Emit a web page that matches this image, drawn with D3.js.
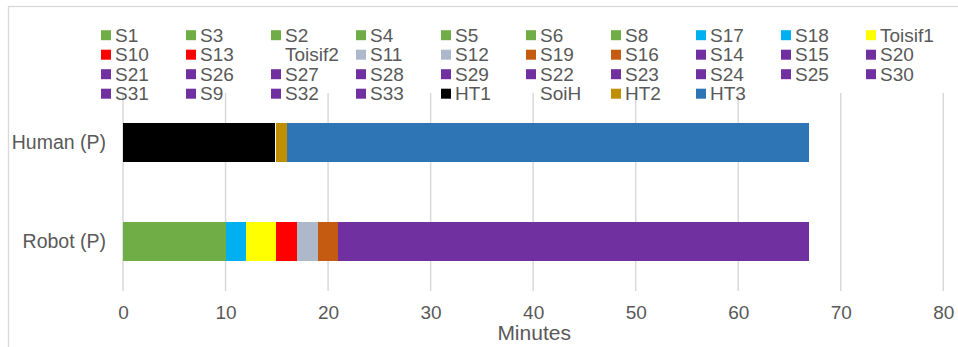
<!DOCTYPE html>
<html>
<head>
<meta charset="utf-8">
<script src="https://cdn.jsdelivr.net/npm/d3@7"></script>
<style>
  html, body { margin: 0; padding: 0; background: #fff; }
  svg { display: block; font-family: "Liberation Sans", Arial, sans-serif; }
</style>
</head>
<body>
<svg id="chart" width="958" height="347"></svg>
<script>
// ---- data ----
const categories = ["Human (P)", "Robot (P)"];
const seriesNames = ["S1","S3","S2","S4","S5","S6","S8","S17","S18","Toisif1",
  "S10","S13","Toisif2","S11","S12","S19","S16","S14","S15","S20",
  "S21","S26","S27","S28","S29","S22","S23","S24","S25","S30",
  "S31","S9","S32","S33","HT1","SoiH","HT2","HT3"];
const seriesColors = ["#70AD47","#70AD47","#70AD47","#70AD47","#70AD47","#70AD47","#70AD47","#00B0F0","#00B0F0","#FFFF00",
  "#FF0000","#FF0000",null,"#ADB9CA","#ADB9CA","#C55A11","#C55A11","#7030A0","#7030A0","#7030A0",
  "#7030A0","#7030A0","#7030A0","#7030A0","#7030A0","#7030A0","#7030A0","#7030A0","#7030A0","#7030A0",
  "#7030A0","#7030A0","#7030A0","#7030A0","#000000",null,"#BF8F00","#2E75B6"];
const humanValues = [0,0,0,0,0,0,0,0,0,0,
  0,0,0,0,0,0,0,0,0,0,
  0,0,0,0,0,0,0,0,0,0,
  0,0,0,0,14.8,0.1,1.1,50.9];
const robotValues = [1.5,1.5,1.5,1.5,1.5,1.5,1.0,1.0,1.0,2.9,
  1.1,1.0,0,1.0,1.0,1.0,1.0,2.5,2.5,3.0,
  2.5,3.0,2.5,3.0,2.5,3.0,2.5,3.0,2.5,3.0,
  2.5,3.0,2.5,2.4,0,0,0,0];
const xTicks = [0,10,20,30,40,50,60,70,80];
const xTitle = "Minutes";

// ---- build table ----
const valuesByCategory = [humanValues, robotValues];
const table = categories.map((c, ci) => {
  const row = { category: c };
  seriesNames.forEach((s, si) => { row[s] = valuesByCategory[ci][si]; });
  return row;
});
const colorOf = {};
seriesNames.forEach((s, i) => colorOf[s] = seriesColors[i]);

const svg = d3.select("#chart");
const textColor = "#595959";
const gridColor = "#D9D9D9";

// chart frame
svg.append("rect")
  .attr("x", 8.5).attr("y", 6.5).attr("width", 1100).attr("height", 500)
  .attr("fill", "none").attr("stroke", gridColor).attr("stroke-width", 1.3);

const plot = { left: 123, right: 943.3, top: 93, bottom: 291 };

const x = d3.scaleLinear().domain([0, 80]).range([plot.left, plot.right]);
const y = d3.scaleBand().domain(categories).range([plot.top, plot.bottom])
  .paddingInner(0.6).paddingOuter(0.3);

// gridlines
svg.append("g").selectAll("line").data(xTicks).join("line")
  .attr("x1", d => x(d)).attr("x2", d => x(d))
  .attr("y1", plot.top).attr("y2", plot.bottom)
  .attr("stroke", gridColor).attr("stroke-width", 1.5);

// stacked bars
const stack = d3.stack().keys(seriesNames);
const layers = stack(table);
svg.append("g").selectAll("g").data(layers).join("g")
  .attr("fill", d => colorOf[d.key] || "none")
  .selectAll("rect").data(d => d).join("rect")
  .attr("x", d => x(d[0]))
  .attr("width", d => Math.max(0, x(d[1]) - x(d[0])))
  .attr("y", d => y(d.data.category))
  .attr("height", y.bandwidth())
  .attr("shape-rendering", "crispEdges");

// x axis tick labels
const xAxis = d3.axisBottom(x).tickValues(xTicks).tickSize(0).tickPadding(0);
const gx = svg.append("g").attr("transform", `translate(0,${plot.bottom})`).call(xAxis);
gx.select(".domain").remove();
gx.selectAll("text")
  .attr("y", 22).attr("dy", "0.32em")
  .attr("fill", textColor).attr("font-size", 19)
  .attr("font-family", "Liberation Sans, Arial, sans-serif");

// axis title
svg.append("text")
  .attr("x", (plot.left + plot.right) / 2 + 1).attr("y", 333).attr("dy", "0.35em")
  .attr("text-anchor", "middle").attr("fill", textColor).attr("font-size", 21)
  .text(xTitle);

// y axis category labels
const yAxis = d3.axisLeft(y).tickSize(0).tickPadding(0);
const gy = svg.append("g").attr("transform", `translate(106,0)`).call(yAxis);
gy.select(".domain").remove();
gy.selectAll("text")
  .attr("x", 0).attr("dy", "0.35em")
  .attr("fill", textColor).attr("font-size", 19.5)
  .attr("font-family", "Liberation Sans, Arial, sans-serif");

// legend
const legend = svg.append("g");
const perRow = 10;
const items = legend.selectAll("g").data(seriesNames).join("g")
  .attr("transform", (d, i) => `translate(${101 + (i % perRow) * 85},${35.2 + Math.floor(i / perRow) * 19.5})`);
items.filter(d => colorOf[d]).append("rect")
  .attr("x", 0).attr("y", -5).attr("width", 10).attr("height", 10)
  .attr("fill", d => colorOf[d]);
items.append("text")
  .attr("x", 14).attr("dy", "0.35em")
  .attr("fill", textColor).attr("font-size", 19)
  .text(d => d);
</script>
</body>
</html>
